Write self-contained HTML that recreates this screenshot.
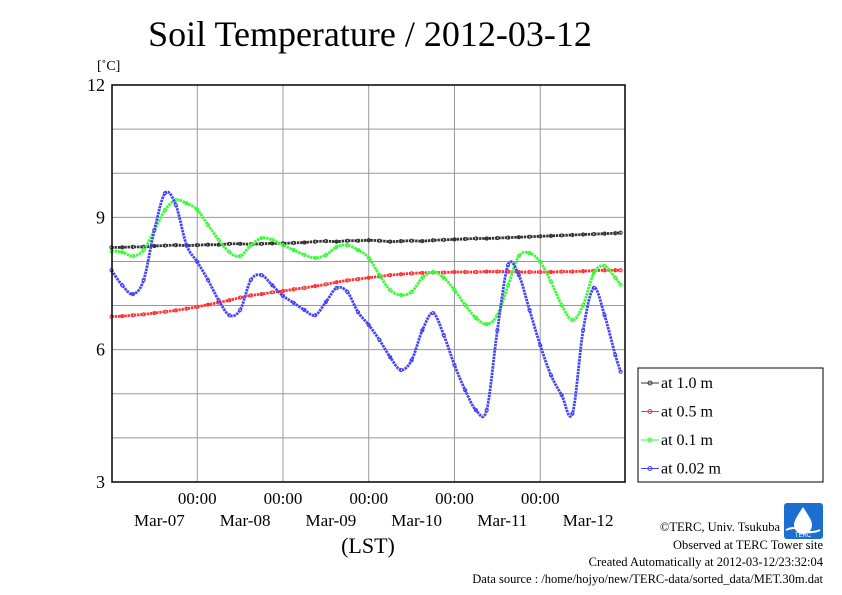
<!DOCTYPE html>
<html><head><meta charset="utf-8"><style>
body{margin:0;background:#fff;}
svg{display:block;font-family:"Liberation Serif",serif;}
</style></head><body>
<svg id="chart" width="842" height="595" viewBox="0 0 842 595">
<text x="370" y="46" font-size="36" text-anchor="middle">Soil Temperature / 2012-03-12</text>
<text x="97" y="70" font-size="14">[˚C]</text>
<g id="grid"></g>
<g id="series"></g>
<rect x="112" y="85" width="513" height="397" fill="none" stroke="#000" stroke-width="1.5"/>
<g id="axes"></g>
<text x="368" y="553" font-size="22" text-anchor="middle">(LST)</text>
<g>
<rect x="638" y="368" width="185" height="114" fill="#fff" stroke="#000" stroke-width="1"/>
<g id="legend-items"></g>
</g>
<g>
<rect x="784" y="503" width="39" height="36" rx="3" fill="#1a6fd0"/>
<path d="M803 507 C798 515 794 520 794 525 a9 9 0 0 0 18 0 C812 520 808 515 803 507Z" fill="#fff"/>
<path d="M786 530 q8 -4 17 0 t17 0" stroke="#fff" stroke-width="2" fill="none"/>
<text x="803" y="537" font-size="6" fill="#fff" text-anchor="middle" font-family="Liberation Sans,sans-serif">TERC</text>
</g>
<g font-size="12.5" text-anchor="end">
<text x="780" y="531">©TERC, Univ. Tsukuba</text>
<text x="823" y="549">Observed at TERC Tower site</text>
<text x="823" y="566">Created Automatically at 2012-03-12/23:32:04</text>
<text x="823" y="583">Data source : /home/hojyo/new/TERC-data/sorted_data/MET.30m.dat</text>
</g>
</svg>
<script>
const hours = [0,3,6,9,12,15,18,21,24,27,30,33,36,39,42,45,48,51,54,57,60,63,66,69,72,75,78,81,84,87,90,93,96,99,102,105,108,111,114,117,120,123,126,129,132,135,138,141,142.5];
const s10 = [8.32,8.32,8.33,8.33,8.35,8.36,8.37,8.36,8.37,8.38,8.38,8.40,8.40,8.39,8.40,8.41,8.41,8.42,8.43,8.45,8.46,8.45,8.47,8.47,8.48,8.47,8.45,8.46,8.47,8.46,8.48,8.49,8.50,8.51,8.52,8.52,8.53,8.54,8.55,8.56,8.57,8.58,8.59,8.60,8.61,8.62,8.63,8.64,8.65];
const s05 = [6.75,6.76,6.78,6.80,6.83,6.86,6.89,6.93,6.97,7.02,7.07,7.12,7.18,7.23,7.26,7.30,7.33,7.37,7.40,7.44,7.48,7.53,7.57,7.60,7.63,7.66,7.69,7.71,7.73,7.74,7.75,7.75,7.76,7.76,7.76,7.77,7.77,7.77,7.76,7.76,7.76,7.76,7.77,7.77,7.78,7.79,7.80,7.80,7.80];
const s01 = [8.24,8.21,8.12,8.26,8.71,9.17,9.39,9.32,9.17,8.83,8.49,8.21,8.12,8.37,8.53,8.49,8.37,8.26,8.15,8.08,8.15,8.33,8.37,8.26,8.08,7.69,7.35,7.24,7.31,7.63,7.76,7.63,7.35,7.01,6.72,6.58,6.78,7.46,8.12,8.19,7.99,7.54,7.01,6.67,7.01,7.74,7.90,7.63,7.47];
const s002 = [7.80,7.46,7.26,7.58,8.71,9.55,9.28,8.37,7.99,7.58,7.12,6.78,6.90,7.58,7.69,7.46,7.22,7.06,6.90,6.78,7.08,7.40,7.31,6.85,6.56,6.22,5.83,5.54,5.76,6.44,6.83,6.33,5.65,5.08,4.63,4.63,6.44,7.92,7.69,6.90,6.10,5.42,4.97,4.55,6.44,7.40,6.78,5.88,5.50];
const yTicks = [3,6,9,12];
const xTickHours = [24,48,72,96,120];
const dayLabels = ["Mar-07","Mar-08","Mar-09","Mar-10","Mar-11","Mar-12"];
const seriesNames = ["at 1.0 m","at 0.5 m","at 0.1 m","at 0.02 m"];
const seriesColors = ["#333","#f33","#3f3","#44f"];

const NS="http://www.w3.org/2000/svg";
const X0=111.5,X1=626,Y0=482,Y1=85;
const xs=h=>X0+(X1-X0)*h/144;
const ys=v=>Y0-(Y0-Y1)*(v-3)/9;
function mk(tag,attrs,parent){const e=document.createElementNS(NS,tag);for(const k in attrs)e.setAttribute(k,attrs[k]);parent.appendChild(e);return e;}
const grid=document.getElementById('grid'),axes=document.getElementById('axes'),ser=document.getElementById('series');
for(let v=4;v<12;v++){const l=mk('line',{x1:112,x2:625,y1:ys(v),y2:ys(v),stroke:'#999','stroke-width':1},grid);

}
xTickHours.forEach(h=>{const l=mk('line',{x1:xs(h),x2:xs(h),y1:85,y2:482,stroke:'#999','stroke-width':1},grid);


const t=mk('text',{x:xs(h),y:504,'font-size':17,'text-anchor':'middle'},axes);t.textContent='00:00';

});
dayLabels.forEach((d,i)=>{const t=mk('text',{x:xs(i*24+12)+5,y:526,'font-size':17,'text-anchor':'middle'},axes);t.textContent=d;

});
yTicks.forEach(v=>{const t=mk('text',{x:105,y:ys(v)+6,'font-size':18,'text-anchor':'end'},axes);t.textContent=v;

});
function smooth(pts){let d=`M${pts[0][0]},${pts[0][1]}`;for(let i=0;i<pts.length-1;i++){const p0=pts[Math.max(0,i-1)],p1=pts[i],p2=pts[i+1],p3=pts[Math.min(pts.length-1,i+2)];
d+=` C${p1[0]+(p2[0]-p0[0])/6},${p1[1]+(p2[1]-p0[1])/6} ${p2[0]-(p3[0]-p1[0])/6},${p2[1]-(p3[1]-p1[1])/6} ${p2[0]},${p2[1]}`;}return d;}
[s10,s05,s01,s002].forEach((s,si)=>{const g=mk('g',{},ser);


const pts=s.map((v,i)=>[xs(hours[i]),ys(v)]);
const p=mk('path',{d:smooth(pts),fill:'none',stroke:seriesColors[si],'stroke-width':2.8,'stroke-dasharray':'2.4 0.8'},g);


pts.forEach(q=>{const c=mk('circle',{cx:q[0],cy:q[1],r:1.6,fill:'none',stroke:seriesColors[si],'stroke-width':1},g);

});
const li=document.getElementById('legend-items');const ly=383+si*28.5;
const ll=mk('line',{x1:641,x2:659,y1:ly,y2:ly,stroke:seriesColors[si],'stroke-width':1},li);


const lc=mk('circle',{cx:650,cy:ly,r:2,fill:'none',stroke:seriesColors[si],'stroke-width':1},li);


const lt=mk('text',{x:661,y:ly+5,'font-size':16},li);lt.textContent=seriesNames[si];

});
</script>
</body></html>
